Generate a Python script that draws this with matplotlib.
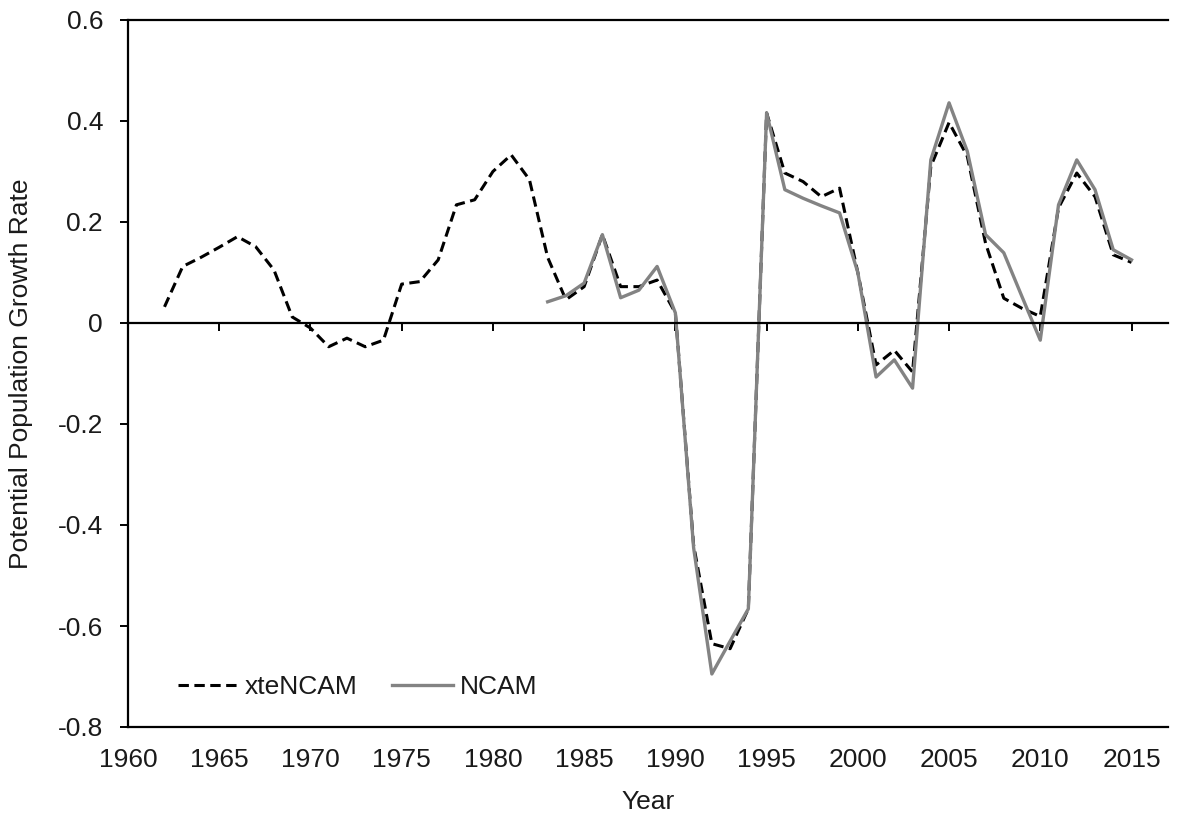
import matplotlib
matplotlib.use("Agg")
import matplotlib.pyplot as plt
import numpy as np

plt.rcParams["font.family"] = ["Liberation Sans", "DejaVu Sans"]
plt.rcParams["axes.unicode_minus"] = False

TEXT_COLOR = "#1a1a1a"
FS = 19

# xteNCAM series (dashed black), 1962-2015
xte_years = list(range(1962, 2016))
xte_values = [
    0.032, 0.112, 0.130, 0.150, 0.171, 0.151, 0.105, 0.012, -0.010, -0.047,
    -0.030, -0.047, -0.034, 0.077, 0.082, 0.125, 0.234, 0.244, 0.300, 0.333,
    0.284, 0.130, 0.046, 0.072, 0.175, 0.072, 0.072, 0.085, 0.020, -0.440,
    -0.635, -0.645, -0.566, 0.416, 0.297, 0.280, 0.250, 0.267, 0.100, -0.083,
    -0.054, -0.097, 0.310, 0.397, 0.330, 0.158, 0.049, 0.029, 0.013, 0.228,
    0.297, 0.250, 0.135, 0.120,
]

# NCAM series (solid grey), 1983-2015
ncam_years = list(range(1983, 2016))
ncam_values = [
    0.042, 0.054, 0.079, 0.175, 0.050, 0.065, 0.112, 0.020, -0.445, -0.695,
    -0.630, -0.566, 0.416, 0.264, 0.247, 0.232, 0.218, 0.100, -0.107, -0.073,
    -0.129, 0.323, 0.436, 0.340, 0.175, 0.139, 0.052, -0.034, 0.234, 0.323,
    0.264, 0.145, 0.125,
]

x_ticks = list(range(1960, 2016, 5))
y_ticks = [0.6, 0.4, 0.2, 0, -0.2, -0.4, -0.6, -0.8]
y_tick_labels = ["0.6", "0.4", "0.2", "0", "-0.2", "-0.4", "-0.6", "-0.8"]

fig = plt.figure(figsize=(11.78, 8.16), dpi=100)
ax = fig.add_axes([128 / 1178, 89 / 816, 1040 / 1178, 707 / 816])

ax.plot(xte_years, xte_values, color="black", lw=2.2, dashes=(3.4, 1.8),
        label="xteNCAM")
ax.plot(ncam_years, ncam_values, color="#838383", lw=2.4, label="NCAM")

ax.set_xlim(1960, 2017)
ax.set_ylim(-0.8, 0.6)

# zero line acts as the x axis with ticks hanging below it
ax.spines["bottom"].set_position(("data", 0))
ax.spines["bottom"].set_linewidth(1.6)
ax.spines["right"].set_visible(False)
ax.spines["top"].set_linewidth(1.6)
ax.spines["left"].set_linewidth(1.6)
ax.set_xticks(x_ticks)
ax.tick_params(axis="x", direction="out", length=6, width=1.4,
               labelbottom=False)

# bottom frame line carrying the year labels
secx = ax.secondary_xaxis(0)
secx.set_xticks(x_ticks)
secx.spines["bottom"].set_linewidth(1.6)
secx.tick_params(axis="x", length=0, pad=15, labelsize=FS,
                 labelcolor=TEXT_COLOR)
secx.set_xlabel("Year", fontsize=FS, color=TEXT_COLOR, labelpad=13)

ax.set_yticks(y_ticks)
ax.set_yticklabels(y_tick_labels)
ax.tick_params(axis="y", direction="out", length=6, width=1.4, pad=12,
               labelsize=FS, labelcolor=TEXT_COLOR)
ax.set_ylabel("Potential Population Growth Rate", fontsize=FS,
              color=TEXT_COLOR, labelpad=18)

ax.legend(loc="lower left", bbox_to_anchor=(0.025, 0.006), ncol=2,
          frameon=False, fontsize=FS, handlelength=2.3, handletextpad=0.25,
          columnspacing=1.3, labelcolor=TEXT_COLOR)

fig.savefig("out.png", dpi=100)
